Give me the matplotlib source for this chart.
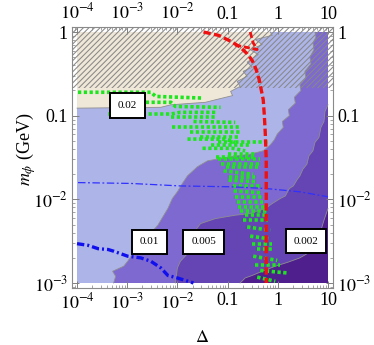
import numpy as np
import matplotlib
matplotlib.use("Agg")
import matplotlib.pyplot as plt
from matplotlib.ticker import FixedLocator, FuncFormatter, LogLocator, NullFormatter

plt.rcParams['font.family'] = ['Liberation Serif', 'DejaVu Serif']
plt.rcParams['mathtext.fontset'] = 'stix'
plt.rcParams['hatch.linewidth'] = 0.75

# alle Werte in log10-Einheiten: lx = log10(Delta), ly = log10(m_phi / GeV)

# Grenze beige Zone (oben links)
beige_lx = [-4.0, -0.15, -0.11, -0.45, -0.31, -0.55, -0.39, -0.61, -0.51, -0.69, -0.61,
            -0.81, -0.75, -0.94, -0.90, -1.24, -1.44, -2.13, -2.33, -4.0]
beige_ly = [0.0, 0.0, -0.04, -0.09, -0.15, -0.21, -0.27, -0.36, -0.42, -0.47, -0.53,
            -0.59, -0.65, -0.71, -0.76, -0.81, -0.84, -0.87, -0.90, -0.91]

# Kontur 0.01 (hellblau / mittel)
c001_lx = [-3.27, -3.23, -3.29, -3.07, -2.99, -2.89, -2.63, -2.39, -2.29, -2.19, -2.10,
           -2.00, -1.90, -1.80, -1.60, -1.40, -0.94, -0.55, -0.29, -0.15, -0.07, -0.01,
           0.11, 0.09, 0.23, 0.21, 0.35, 0.33, 0.46, 0.44, 0.56, 0.54, 0.66, 0.64,
           0.72, 0.70, 0.76, 0.74]
c001_ly = [-3.0, -2.92, -2.86, -2.80, -2.74, -2.65, -2.47, -2.31, -2.21, -2.11, -1.99,
           -1.91, -1.81, -1.72, -1.61, -1.54, -1.49, -1.46, -1.42, -1.35, -1.29, -1.22,
           -1.14, -1.07, -1.00, -0.93, -0.85, -0.78, -0.70, -0.63, -0.55, -0.47, -0.38,
           -0.30, -0.21, -0.13, -0.06, 0.0]

# Kontur 0.005 (mittel / dunkler)
c0005_lx = [-2.04, -2.00, -1.94, -1.80, -1.74, -1.64, -1.54, -1.24, -0.85, -0.55, -0.41,
            -0.25, -0.11, 0.05, 0.15, 0.23, 0.31, 0.39, 0.44, 0.50, 0.58, 0.62, 0.70,
            0.74, 0.82, 0.86, 0.92, 0.94, 1.0]
c0005_ly = [-3.0, -2.82, -2.74, -2.65, -2.53, -2.37, -2.29, -2.23, -2.19, -2.17, -2.14,
            -2.11, -2.05, -1.99, -1.96, -1.87, -1.84, -1.76, -1.72, -1.64, -1.58, -1.48,
            -1.42, -1.32, -1.26, -1.14, -1.07, -0.95, -0.87]

# Kontur 0.002 (dunkler / dunkelste)
c0002_lx = [-0.75, -0.65, -0.51, -0.31, -0.05, 0.21, 0.44, 0.64, 0.76, 0.84, 0.92, 1.0]
c0002_ly = [-3.0, -2.94, -2.91, -2.86, -2.80, -2.75, -2.70, -2.63, -2.53, -2.41, -2.25, -2.11]

# ausgeschlossene Zone (schraffiert) oberhalb
hatch_ly = -0.664

# rote Kurve
red_lx = [-1.48, -1.18, -0.94, -0.75, -0.61, -0.51, -0.43, -0.37, -0.33, -0.29, -0.27,
          -0.25, -0.23, -0.23]
red_ly = [0.0, -0.04, -0.11, -0.18, -0.26, -0.34, -0.45, -0.57, -0.69, -0.81, -0.98,
          -1.20, -1.52, -3.0]
red2_lx = [-0.55, -0.49, -0.41, -0.65, -0.90]
red2_ly = [0.0, -0.13, -0.21, -0.18, -0.15]

# blaue Linien
blue_lx = [-3.98, -2.93, -1.94, -0.94, -0.25, 0.44, 1.0]
blue_ly = [-1.80, -1.81, -1.84, -1.85, -1.87, -1.91, -1.97]
blue2_lx = [-4.0, -3.78, -3.58, -3.38, -3.27, -2.99, -2.73, -2.53, -2.33, -2.19, -2.00, -1.68]
blue2_ly = [-2.53, -2.55, -2.59, -2.60, -2.62, -2.68, -2.70, -2.74, -2.82, -2.91, -2.94, -3.0]

# grüne gepunktete Konturen
green_lx = [[-3.98, -2.53, -2.43, -1.48], [-2.63, -2.13, -2.04, -1.14],
            [-3.38, -2.13, -1.94, -1.20], [-2.13, -1.24], [-1.68, -0.85], [-2.10, -0.75],
            [-1.74, -0.75], [-1.54, -0.75], [-1.80, -1.04, -0.85], [-1.20, -0.15],
            [-1.34, -0.55], [-1.50, -0.90, -0.65], [-1.00, -0.45], [-1.24, -0.45],
            [-1.20, -0.35], [-1.14, -0.35], [-1.04, -0.39], [-1.08, -0.49], [-0.98, -0.45],
            [-0.98, -0.41], [-0.90, -0.31], [-0.88, -0.35], [-0.85, -0.31], [-0.81, -0.29],
            [-0.79, -0.25], [-0.75, -0.21], [-0.65, -0.21], [-0.69, -0.19], [-0.61, -0.15],
            [-0.55, -0.19], [-0.51, -0.11], [-0.41, -0.09], [-0.49, -0.01], [-0.45, 0.05],
            [-0.35, 0.18], [-0.41, -0.05]]
green_ly = [[-0.72, -0.72, -0.77, -0.79], [-0.84, -0.84, -0.89, -0.90],
            [-0.98, -0.98, -0.96, -0.96], [-1.02, -1.02], [-1.07, -1.08], [-1.14, -1.14],
            [-1.20, -1.20], [-1.25, -1.25], [-1.28, -1.28, -1.32], [-1.32, -1.32],
            [-1.35, -1.35], [-1.39, -1.39, -1.42], [-1.46, -1.46], [-1.49, -1.49],
            [-1.52, -1.52], [-1.58, -1.58], [-1.61, -1.61], [-1.66, -1.70], [-1.73, -1.73],
            [-1.77, -1.79], [-1.84, -1.84], [-1.90, -1.92], [-1.97, -1.97], [-2.03, -2.03],
            [-2.09, -2.09], [-2.14, -2.14], [-2.19, -2.19], [-2.25, -2.25], [-2.33, -2.37],
            [-2.44, -2.47], [-2.53, -2.53], [-2.59, -2.59], [-2.68, -2.73], [-2.78, -2.78],
            [-2.85, -2.88], [-2.93, -2.98]]

# Beschriftungen der Konturen
lab_text = ['0.02', '0.01', '0.005', '0.002']
lab_lx = [-2.99, -2.55, -1.48, 0.56]
lab_ly = [-0.88, -2.51, -2.51, -2.50]

x_ticks = [1e-4, 1e-3, 1e-2, 0.1, 1, 10]
y_ticks = [1e-3, 1e-2, 0.1, 1]

col_beige = '#efe7d7'
col_light = '#adb5e8'
col_mid = '#7d69cf'
col_dark = '#6445b3'
col_darkest = '#4f1f8e'
col_edge = '#8f8f8f'


def p(a):
    return 10.0 ** np.asarray(a)


def tick_fmt(v, pos):
    e = int(round(np.log10(v)))
    if e == -1:
        return '0.1'
    if e == 0:
        return '1'
    if e == 1:
        return '10'
    return r'$10^{%d}$' % e


fig = plt.figure(figsize=(3.74, 3.45), dpi=100)
ax = fig.add_axes([72 / 374, 57 / 345, 261 / 374, 261 / 345])
ax.set_xscale('log')
ax.set_yscale('log')

# Zonen
ax.fill(p([-4, 1, 1, -4]), p([-3, -3, 0, 0]), color=col_darkest, lw=0, zorder=1)
ax.fill(p(c0002_lx + [1, -4, -4]), p(c0002_ly + [0, 0, -3]), color=col_dark, lw=0, zorder=1)
ax.fill(p(c0005_lx + [1, -4, -4]), p(c0005_ly + [0, 0, -3]), color=col_mid, lw=0, zorder=1)
ax.fill(p(c001_lx + [-4, -4]), p(c001_ly + [0, -3]), color=col_light, lw=0, zorder=1)
ax.fill(p(beige_lx), p(beige_ly), color=col_beige, lw=0, zorder=1)

for bx, by in [(c0002_lx, c0002_ly), (c0005_lx, c0005_ly), (c001_lx, c001_ly),
               (beige_lx[1:], beige_ly[1:])]:
    ax.plot(p(bx), p(by), color=col_edge, lw=0.6, zorder=1.5)

# Schraffur
ax.fill_between(p([-4.1, 1.1]), p(hatch_ly), p(0.06), facecolor='none',
                edgecolor='#888888', hatch='//////', linewidth=0, zorder=2)

# Linien
for gx, gy in zip(green_lx, green_ly):
    ax.plot(p(gx), p(gy), color='#1ee61e', lw=2.6, linestyle=(0, (0.9, 0.7)),
            solid_capstyle='butt', zorder=3)
ax.plot(p(blue_lx), p(blue_ly), color='#3030ff', lw=0.9, linestyle=(0, (6, 2, 1.5, 2)), zorder=3)
ax.plot(p(blue2_lx), p(blue2_ly), color='#1010ee', lw=2.4, linestyle=(0, (2.2, 0.9, 0.6, 0.9)),
        zorder=3)
ax.plot(p(red_lx), p(red_ly), color='#ee1111', lw=2.4, linestyle=(0, (2.2, 1.0)), zorder=3.5)
ax.plot(p(red2_lx), p(red2_ly), color='#ee1111', lw=2.0, linestyle=(0, (2.2, 1.0)), zorder=3.5)

for t, lx, ly in zip(lab_text, lab_lx, lab_ly):
    ax.text(10 ** lx, 10 ** ly, t, fontsize=8, ha='center', va='center', zorder=5,
            bbox=dict(boxstyle='square,pad=0.7', fc='white', ec='black', lw=1.4))

ax.set_xlim(10 ** -4.1, 10 ** 1.1)
ax.set_ylim(10 ** -3.06, 10 ** 0.06)

for axis, ticks in [(ax.xaxis, x_ticks), (ax.yaxis, y_ticks)]:
    axis.set_major_locator(FixedLocator(ticks))
    axis.set_major_formatter(FuncFormatter(tick_fmt))
    axis.set_minor_locator(LogLocator(base=10, subs=np.arange(2, 10), numticks=20))
    axis.set_minor_formatter(NullFormatter())

ax.tick_params(which='both', direction='in', top=True, right=True, labeltop=True,
               labelright=True, color='#808080', labelsize=13, pad=3)
ax.tick_params(which='major', length=5, width=0.7)
ax.tick_params(which='minor', length=2.5, width=0.5)
for s in ax.spines.values():
    s.set_color('#8a8a8a')
    s.set_linewidth(0.8)

ax.set_xlabel(r'$\Delta$', fontsize=13, labelpad=12)
ax.set_ylabel(r'$m_\phi$ (GeV)', fontsize=13)
ax.yaxis.set_label_coords(-0.13, 0.53)

fig.savefig('out.png', dpi=100)
